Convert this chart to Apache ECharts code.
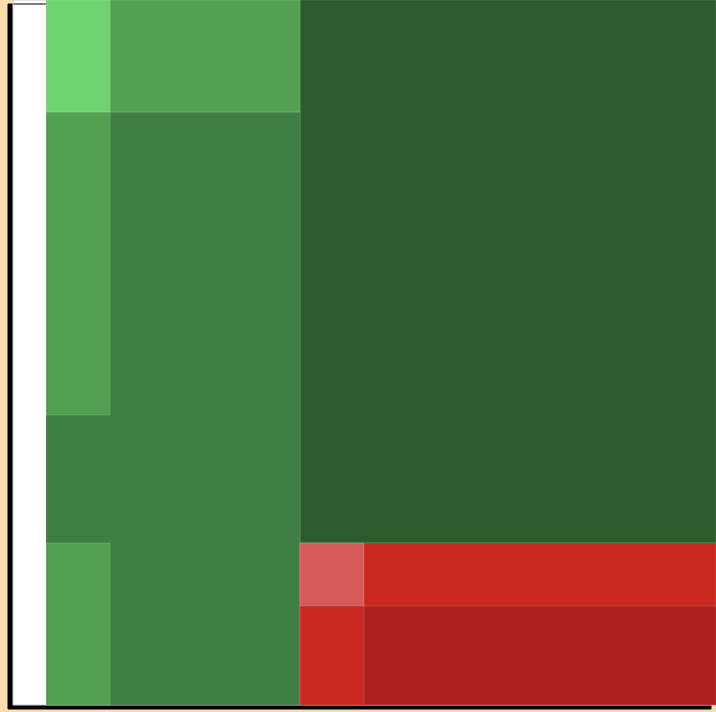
<!DOCTYPE html>
<html>
<head>
<meta charset="utf-8">
<script src="https://cdn.jsdelivr.net/npm/echarts@6/dist/echarts.min.js"></script>
<style>
html,body{margin:0;padding:0;background:#FFDEAD;}
#chart{width:716px;height:712px;}
</style>
</head>
<body>
<div id="chart"></div>
<script>
// Cells (drawn in order): x range, y range (value units), group and shade level
const cellX0 = [287, 33, 97, 33, 33, 33, 287, 351, 287];
const cellX1 = [703, 287, 287, 97, 97, 97, 703, 703, 351];
const cellY0 = [162, 0, 593, 290, 593, 0, 0, 0, 99];
const cellY1 = [705, 593, 705, 593, 705, 162, 162, 99, 162];
const cellGroup = ['green', 'green', 'green', 'green', 'green', 'green', 'red', 'red', 'red'];
const cellLevel = [4, 3, 2, 2, 1, 2, 2, 3, 1];
const xMax = 703;
const yMax = 705;

const palette = {
  green: ['#6FD470', '#52A052', '#3E7D44', '#2C5B2E'],
  red: ['#D55B5B', '#C9271F', '#AE2020']
};

const data = cellX0.map((x0, i) => [x0, cellX1[i], cellY0[i], cellY1[i], cellLevel[i], cellGroup[i]]);

const chart = echarts.init(document.getElementById('chart'));
chart.setOption({
  backgroundColor: '#FFDEAD',
  animation: false,
  grid: {
    left: 13, top: 0, right: 0, bottom: 7,
    show: true,
    backgroundColor: '#ffffff',
    borderColor: '#cccccc',
    borderWidth: 1,
    shadowColor: '#000000',
    shadowBlur: 0,
    shadowOffsetX: -5,
    shadowOffsetY: 4
  },
  xAxis: { type: 'value', min: 0, max: xMax, show: false },
  yAxis: { type: 'value', min: 0, max: yMax, show: false },
  series: [{
    type: 'custom',
    data: data,
    encode: { x: [0, 1], y: [2, 3] },
    renderItem: function (params, api) {
      const d = data[params.dataIndex];
      const p0 = api.coord([d[0], d[3]]);
      const p1 = api.coord([d[1], d[2]]);
      return {
        type: 'rect',
        shape: { x: p0[0], y: p0[1], width: p1[0] - p0[0], height: p1[1] - p0[1] },
        style: {
          fill: palette[d[5]][d[4] - 1],
          stroke: 'rgba(255,255,255,0.15)',
          lineWidth: 1
        }
      };
    }
  }]
});
</script>
</body>
</html>
